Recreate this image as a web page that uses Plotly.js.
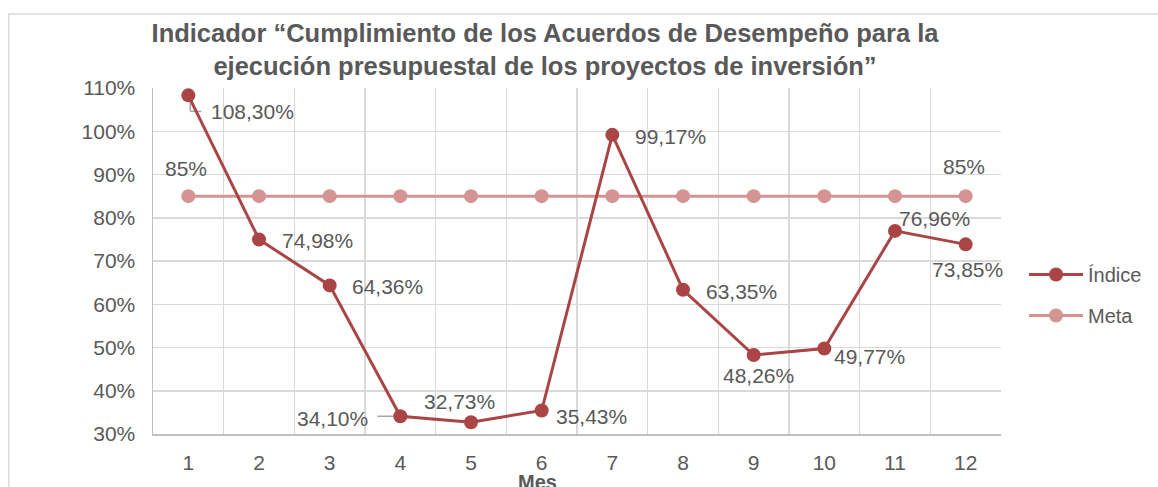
<!DOCTYPE html>
<html>
<head>
<meta charset="utf-8">
<script src="https://cdn.plot.ly/plotly-3.0.1.min.js"></script>
<style>html,body{margin:0;padding:0;background:#fff;}#chart{width:1158px;height:487px;}</style>
</head>
<body>
<div id="chart"></div>
<script>
const months = [1, 2, 3, 4, 5, 6, 7, 8, 9, 10, 11, 12];
const indice = [108.30, 74.98, 64.36, 34.10, 32.73, 35.43, 99.17, 63.35, 48.26, 49.77, 76.96, 73.85];
const meta = [85, 85, 85, 85, 85, 85, 85, 85, 85, 85, 85, 85];
const yTicks = [30, 40, 50, 60, 70, 80, 90, 100, 110];
const metaLabelIdx = [0, 11];

// label offsets (pixels) relative to each point: [xshift, yshift]
const indiceOffsets = [[64,-16],[58,-1],[58,-1],[-68,-2],[-12,21],[50,-6],[58,-2],[58,-2],[5,-20],[45,-8],[39,12],[2,-25]];
const metaOffsets = [[-2,28],[-2,30]];

const txt = '#595959';
const fam = '"Liberation Sans", Arial, sans-serif';
const cIndice = '#AB4545';
const cMeta = '#D49494';

function fmt(v){ return v.toFixed(2).replace('.', ',') + '%'; }

const annotations = [];
indice.forEach((v,i)=>{
  annotations.push({x: months[i], y: v, xref:'x', yref:'y', text: fmt(v), showarrow:false,
    xanchor:'center', yanchor:'middle', xshift: indiceOffsets[i][0], yshift: indiceOffsets[i][1],
    font:{family:fam, size:21, color:txt}});
});
metaLabelIdx.forEach((idx,k)=>{
  annotations.push({x: months[idx], y: meta[idx], xref:'x', yref:'y', text: meta[idx] + '%', showarrow:false,
    xanchor:'center', yanchor:'middle', xshift: metaOffsets[k][0], yshift: metaOffsets[k][1],
    font:{family:fam, size:21, color:txt}});
});
annotations.push({x:(537-153)/847, y:-0.139, xref:'paper', yref:'paper', text:'<b>Mes</b>', showarrow:false,
  xanchor:'center', yanchor:'middle', font:{family:fam, size:20, color:txt}});

const leader = {color:'#A6A6A6', width:1.5};
const shapes = [
  {type:'rect', xref:'paper', yref:'paper', x0:(9-153)/847, x1:1.3, y0:-0.3, y1:(434-14)/346,
   line:{color:'#D9D9D9', width:1.5}, fillcolor:'rgba(0,0,0,0)', layer:'below'},
  {type:'line', xref:'x', yref:'y', xsizemode:'pixel', ysizemode:'pixel', xanchor: months[0], yanchor: indice[0],
   x0:2, x1:2, y0:-5, y1:-16, line:leader, layer:'below'},
  {type:'line', xref:'x', yref:'y', xsizemode:'pixel', ysizemode:'pixel', xanchor: months[0], yanchor: indice[0],
   x0:2, x1:13, y0:-16, y1:-16, line:leader, layer:'below'},
  {type:'line', xref:'x', yref:'y', xsizemode:'pixel', ysizemode:'pixel', xanchor: months[3], yanchor: indice[3],
   x0:-23, x1:-4, y0:0, y1:0, line:leader, layer:'below'}
];

const traces = [
  {x: months, y: meta, name:'Meta', type:'scatter', mode:'lines+markers', legendgroup:'m', legendrank:2,
   line:{color:cMeta, width:3}, marker:{color:cMeta, size:14}},
  {x: months, y: indice, name:'Índice', type:'scatter', mode:'lines+markers', legendgroup:'i', legendrank:1,
   line:{color:cIndice, width:3}, marker:{color:cIndice, size:14}}
];

const layout = {
  width:1158, height:487,
  margin:{l:153, r:157, t:88, b:53, autoexpand:false},
  paper_bgcolor:'#fff', plot_bgcolor:'#fff',
  font:{family:fam, color:txt, size:21},
  title:{text:'<b>Indicador “Cumplimiento de los Acuerdos de Desempeño para la<br>ejecución presupuestal de los proyectos de inversión”</b>',
    x:545/1158, xanchor:'center', xref:'container', y:1-42/487, yanchor:'top', yref:'container',
    font:{family:fam, size:25.5, color:txt}},
  xaxis:{range:[0.5,12.5], tickvals: months, ticktext: months.map(String), showgrid:false, zeroline:false,
    showline:true, linecolor:'#BFBFBF', linewidth:1.5, ticks:'', ticklabelstandoff:9,
    minor:{tickvals: months.map(m=>m-0.5).concat([12.5]), showgrid:true, gridcolor:'#D9D9D9', gridwidth:1.5, ticks:''},
    tickfont:{family:fam, size:21, color:txt}, fixedrange:true},
  yaxis:{range:[30,110], tickvals: yTicks, ticktext: yTicks.map(v=>v+'%'), showgrid:true, gridcolor:'#D9D9D9', gridwidth:1.5,
    zeroline:false, showline:true, linecolor:'#BFBFBF', linewidth:1.5, ticks:'', ticklabelstandoff:12,
    tickfont:{family:fam, size:21, color:txt}, fixedrange:true},
  legend:{x:(1023-153)/847, xanchor:'left', y:(434-255)/346, yanchor:'top', tracegroupgap:12,
    font:{family:fam, size:20, color:txt}, bgcolor:'rgba(0,0,0,0)', itemwidth:54},
  showlegend:true,
  annotations: annotations,
  shapes: shapes
};

Plotly.newPlot('chart', traces, layout, {displayModeBar:false, staticPlot:true});
</script>
</body>
</html>
